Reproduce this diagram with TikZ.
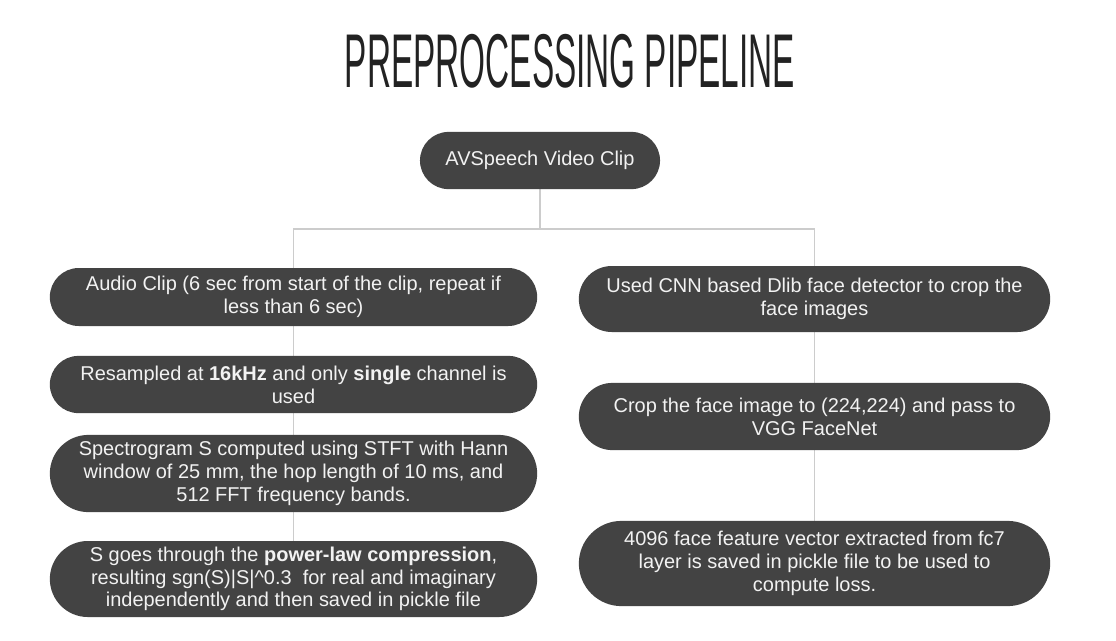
\documentclass[tikz,border=0pt]{standalone}
\usepackage{fontspec}
\setmainfont{Liberation Sans}
\usepackage{tikz}
\usetikzlibrary{shapes.misc, positioning, calc, backgrounds}
\definecolor{pillgray}{HTML}{434343}
\definecolor{linkgray}{HTML}{CCCCCC}
\definecolor{titleink}{HTML}{222222}

\begin{document}
\begin{tikzpicture}[
  x=0.025cm, y=-0.025cm,
  pillnode/.style = {rounded rectangle, fill=pillgray, text=white!95!black,
    inner sep=0pt, align=center, font=\fontsize{14.2pt}{16.2pt}\selectfont},
  leftpill/.style = {pillnode, minimum width=12.18cm},
  rightpill/.style = {pillnode, minimum width=11.78cm},
  link/.style = {draw=linkgray, line width=0.9pt},
]
\useasboundingbox (0,0) rectangle (1116,640);

% Title
\node[text=titleink] (title) at (570,61)
  {\resizebox{11.25cm}{1.33cm}{PREPROCESSING PIPELINE}};

% Source clip
\node[pillnode, minimum width=6cm, minimum height=1.43cm] (clip) at (540,160.5)
  {AVSpeech Video Clip};

% Audio branch (left column)
\node[leftpill, minimum height=1.45cm] (audio) at (293.5,297)
  {Audio Clip (6 sec from start of the clip, repeat if\\less than 6 sec)};
\node[leftpill, minimum height=1.43cm] (resamp) at (293.5,384.5)
  {Resampled at \textbf{16kHz} and only \textbf{single} channel is\\used};
\node[leftpill, minimum height=1.93cm] (spec) at (293.5,473.5)
  {Spectrogram S computed using STFT with Hann\\window of 25 mm, the hop length of 10 ms, and\\512 FFT frequency bands.};
\node[leftpill, minimum height=1.9cm] (power) at (293.5,579)
  {S goes through the \textbf{power-law compression},\\resulting sgn(S)|S|\^{}0.3~ for real and imaginary\\independently and then saved in pickle file};

% Visual branch (right column)
\node[rightpill, minimum height=1.65cm] (detect) at (814.5,299)
  {Used CNN based Dlib face detector to crop the\\face images};
\node[rightpill, minimum height=1.68cm] (crop) at (814.5,416.5)
  {Crop the face image to (224,224) and pass to\\VGG FaceNet};
\node[rightpill, minimum height=2.13cm] (feat) at (814.5,563.5)
  {4096 face feature vector extracted from fc7\\layer is saved in pickle file to be used to\\compute loss.};

% Connectors (behind the pills)
\coordinate (split) at (540,229);
\begin{scope}[on background layer]
\draw[link] (clip.south) |- (power.north |- split) -- (power.north);
\draw[link] (clip.south) |- (feat.north |- split) -- (feat.north);
\end{scope}
\end{tikzpicture}
\end{document}
